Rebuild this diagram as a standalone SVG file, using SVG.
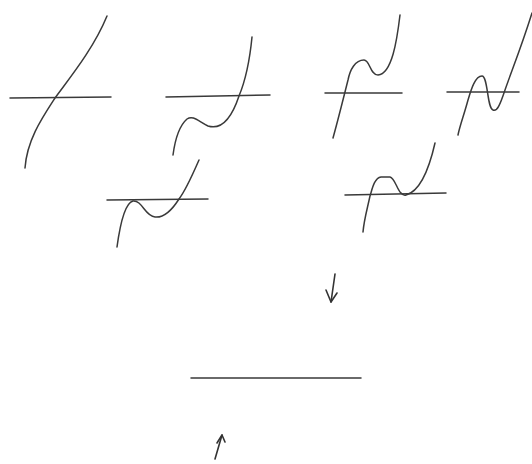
<svg xmlns="http://www.w3.org/2000/svg" width="532" height="464" viewBox="0 0 532 464">
<style>
.s{fill:none;stroke:#3a3a3a;stroke-width:1.5;stroke-linecap:round;stroke-linejoin:round}
.a{fill:none;stroke:#333333;stroke-width:1.6;stroke-linecap:round;stroke-linejoin:round}
</style>
<rect width="532" height="464" fill="#ffffff"/>
<g id="sketch1">
<path class="s" d="M10,98 L111,97"/>
<path class="s" d="M107,16 C93,50 68,80 55,98 C42,118 27,140 25,168"/>
</g>
<g id="sketch2">
<path class="s" d="M166,97 L270,95"/>
<path class="s" d="M252,37 C249,68 244,84 239,96 C233,114 224,131 208,126 C198,121 193,115 187,119 C179,126 175,140 173,155"/>
</g>
<g id="sketch3">
<path class="s" d="M325,93 L402,93"/>
<path class="s" d="M400,15 C397,40 392,74 378,75 C370,75 370,60 364,60 C355,60 350,70 348,80 C343,100 338,120 333,138"/>
</g>
<g id="sketch4">
<path class="s" d="M447,92 L519,92"/>
<path class="s" d="M532,13 C522,45 512,70 505,90 C500,105 497,112 493,110 C487,108 488,76 482,76 C475,76 471,90 468,100 C464,115 460,125 458,135"/>
</g>
<g id="sketch5">
<path class="s" d="M107,200 L208,199"/>
<path class="s" d="M199,160 C192,176 186,190 179,199 C172,210 163,218 155,217 C145,216 142,200 133,201 C125,203 120,225 117,247"/>
</g>
<g id="sketch6">
<path class="s" d="M345,195 L446,193"/>
<path class="s" d="M435,143 C430,165 421,191 406,195 C398,197 396,178 390,177 L381,177 C374,178 372,190 370,196 C367,210 364,220 363,232"/>
</g>
<g id="baseline">
<path class="s" d="M191,378 L361,378"/>
</g>
<g id="connectors">
<path class="a" d="M335,274 L331,302"/>
<path class="a" d="M326,290 L331,302 L337,293"/>
<path class="a" d="M215,459 L222,435"/>
<path class="a" d="M217,443 L222,435 L225,442"/>
</g>
</svg>
